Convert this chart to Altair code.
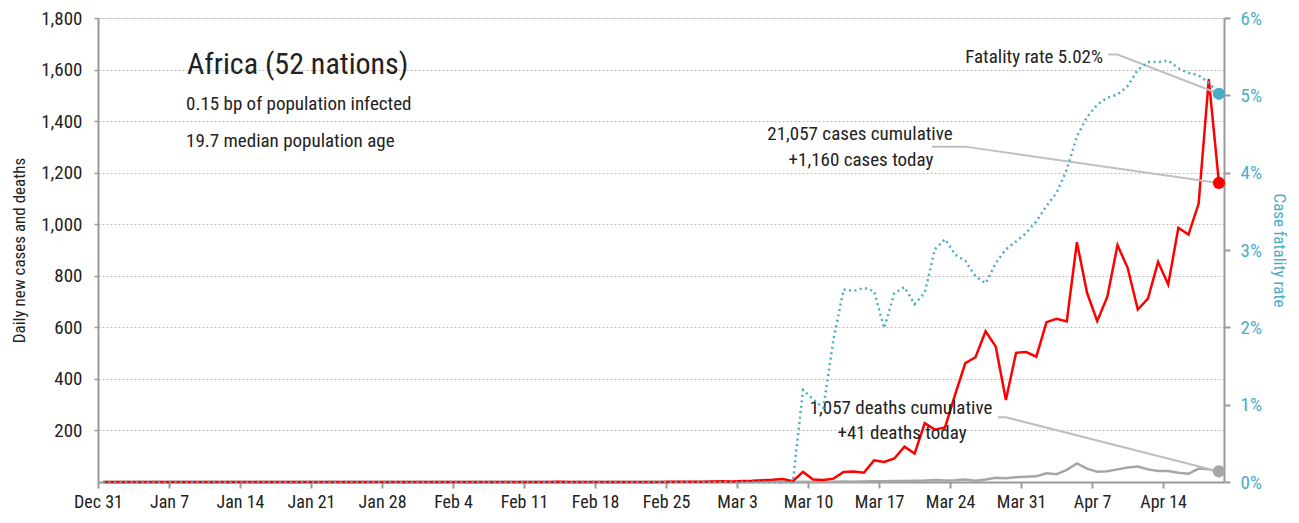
import altair as alt
import pandas as pd

START = "2019-12-31"

# Daily new cases, one value per day from Dec 31 (day 0) to Apr 19 (day 110)
CASES = [0] * 45 + [
    1, 0, 0, 0, 0, 0, 0, 0, 0, 0, 0,          # Feb 14 - Feb 24
    1, 1, 1, 1, 2,                            # Feb 25 - Feb 29
    3, 2, 4, 5, 7, 9, 12, 3, 39, 10,           # Mar 1 - Mar 10
    8, 13, 39, 41, 36, 84, 78, 91, 137, 110,   # Mar 11 - Mar 20
    228, 203, 212, 340, 461, 484, 585, 525, 318, 501,  # Mar 21 - Mar 30
    504, 486, 620, 633, 623, 930, 734, 624, 719, 919,  # Mar 31 - Apr 9
    831, 669, 711, 854, 766, 986, 960, 1080, 1563, 1160,  # Apr 10 - Apr 19
]

# Daily new deaths
DEATHS = [0] * 69 + [
    1, 0, 1, 1, 2, 1, 2, 3, 3, 4, 4, 5,        # Mar 9 - Mar 20
    6, 8, 6, 7, 10, 5, 10, 16, 15, 18,         # Mar 21 - Mar 30
    20, 22, 34, 30, 47, 72, 52, 40, 42, 49,    # Mar 31 - Apr 9
    56, 60, 49, 43, 43, 36, 32, 52, 49, 41,    # Apr 10 - Apr 19
]

# Case fatality rate, percent
CFR = [0] * 69 + [
    1.19, 1.07, 0.96, 1.84, 2.49, 2.47, 2.51, 2.47, 1.99, 2.44, 2.52, 2.30,
    2.45, 3.01, 3.14, 2.94, 2.86, 2.66, 2.57, 2.83, 3.01, 3.11,
    3.22, 3.37, 3.57, 3.74, 4.04, 4.47, 4.72, 4.88, 4.97, 5.01,
    5.12, 5.33, 5.43, 5.43, 5.45, 5.35, 5.29, 5.26, 5.16, 5.02,
]

TICK_DATES = ["2019-12-31", "2020-01-07", "2020-01-14", "2020-01-21", "2020-01-28",
              "2020-02-04", "2020-02-11", "2020-02-18", "2020-02-25", "2020-03-03",
              "2020-03-10", "2020-03-17", "2020-03-24", "2020-03-31", "2020-04-07",
              "2020-04-14"]
X_DOMAIN = ["2019-12-31", "2020-04-20"]
LEFT_TICKS = [200, 400, 600, 800, 1000, 1200, 1400, 1600, 1800]
RIGHT_TICKS = [0, 0.01, 0.02, 0.03, 0.04, 0.05, 0.06]

TITLE = "Africa (52 nations)"
SUBLINES = ["0.15 bp of population infected", "19.7 median population age"]
FAT_LABEL = "Fatality rate 5.02%"
CASE_LABELS = ["21,057 cases cumulative", "+1,160 cases today"]
DEATH_LABELS = ["1,057 deaths cumulative", "+41 deaths today"]

# leader lines: (id, day offset from START, value on the left axis)
LEADERS = [
    ("fat", 99.6, 1658), ("fat", 100.5, 1658), ("fat", 110.5, 1506),
    ("case", 82.2, 1301), ("case", 85.5, 1301), ("case", 110.5, 1160),
    ("death", 88.7, 251), ("death", 89.5, 251), ("death", 110.5, 41),
]

FONT = "'Roboto Condensed', 'DejaVu Sans Condensed', 'Liberation Sans Narrow', 'Arial Narrow', sans-serif"
RED = "#ff0000"
GREY = "#a6a6a6"
BLUE = "#4bacc6"

start = pd.Timestamp(START)
dates = pd.date_range(START, periods=len(CASES), freq="D") + pd.Timedelta(hours=12)
iso = list(dates.strftime("%Y-%m-%dT%H:%M:%SZ"))

df = pd.DataFrame({"date": iso, "cases": CASES, "deaths": DEATHS,
                   "cfr": [v / 100 for v in CFR]})
long = pd.concat([
    pd.DataFrame({"date": iso, "value": DEATHS, "series": "deaths"}),
    pd.DataFrame({"date": iso, "value": CASES, "series": "cases"}),
])
last_long = long[long["date"] == iso[-1]]
last_df = df[df["date"] == iso[-1]]

lead_df = pd.DataFrame({
    "id": [l[0] for l in LEADERS],
    "date": [(start + pd.Timedelta(days=l[1])).strftime("%Y-%m-%dT%H:%M:%SZ") for l in LEADERS],
    "value": [l[2] for l in LEADERS],
    "order": list(range(len(LEADERS))),
})

tick_vals = [int(pd.Timestamp(t, tz="UTC").timestamp() * 1000) for t in TICK_DATES]
xdom = [int(pd.Timestamp(t, tz="UTC").timestamp() * 1000) for t in X_DOMAIN]

xscale = alt.Scale(type="utc", domain=xdom, nice=False)
xaxis = alt.Axis(values=tick_vals, format="%b %-d", title=None, grid=False,
                 domainColor="#999999", domainWidth=2, tickColor="#999999",
                 tickWidth=2, tickSize=6, labelFontSize=18, labelColor="#222222",
                 labelPadding=5, labelOverlap=False, labelFlush=False)
X = alt.X("date:T", scale=xscale, axis=xaxis)
Xn = alt.X("date:T", scale=xscale)

yscale = alt.Scale(domain=[0, 1800], nice=False, zero=True)
yaxis = alt.Axis(values=LEFT_TICKS, format=",.0f", grid=True, gridColor="#bdbdbd",
                 gridDash=[2, 2], gridWidth=1, domainColor="#999999", domainWidth=2,
                 ticks=True, tickColor="#999999", tickWidth=1.5, tickSize=4,
                 labelFontSize=19, labelColor="#222222", labelPadding=12,
                 labelOverlap=False, labelFlush=False,
                 title="Daily new cases and deaths", titleFontSize=17,
                 titleFontWeight="normal", titleColor="#222222", titlePadding=12)
color = alt.Color("series:N", scale=alt.Scale(domain=["deaths", "cases"], range=[GREY, RED]),
                  legend=None)

leaders = alt.Chart(lead_df).mark_line(color="#bfbfbf", strokeWidth=2).encode(
    x=Xn, y=alt.Y("value:Q", scale=yscale), detail="id:N", order="order:Q")

lines = alt.Chart(long).mark_line(strokeWidth=2.5).encode(
    x=X, y=alt.Y("value:Q", scale=yscale, axis=yaxis), color=color)

dots = alt.Chart(last_long).mark_circle(size=150, opacity=1).encode(
    x=Xn, y=alt.Y("value:Q", scale=yscale), color=color)


def txt(s, x, y, size=19, align="left", weight="normal", color="#222222"):
    return alt.Chart(pd.DataFrame({"t": [s]})).mark_text(
        align=align, baseline="middle", fontSize=size, font=FONT, fontWeight=weight,
        color=color).encode(text="t:N", x=alt.value(x), y=alt.value(y))


texts = [
    txt(TITLE, 89, 47, size=30),
    txt(SUBLINES[0], 88, 86),
    txt(SUBLINES[1], 88, 123),
    txt(FAT_LABEL, 1005, 39, align="right"),
    txt(CASE_LABELS[0], 762, 116, align="center"),
    txt(CASE_LABELS[1], 763, 142, align="center"),
    txt(DEATH_LABELS[0], 803, 390, align="center"),
    txt(DEATH_LABELS[1], 804, 415, align="center"),
]

left = alt.layer(lines, leaders, dots, *texts)

rscale = alt.Scale(domain=[0, 0.06], nice=False, zero=True)
raxis = alt.Axis(orient="right", values=RIGHT_TICKS, format=".0%", grid=False,
                 domainColor="#999999", domainWidth=2, tickColor="#999999", tickWidth=2,
                 tickSize=6, labelFontSize=19, labelColor=BLUE, labelPadding=10,
                 labelOverlap=False, labelFlush=False,
                 title="Case fatality rate", titleFontSize=17, titleFontWeight="normal",
                 titleColor=BLUE, titlePadding=8)

blue = alt.Chart(df).mark_line(color=BLUE, strokeWidth=2.5, strokeDash=[2, 3.5]).encode(
    x=Xn, y=alt.Y("cfr:Q", scale=rscale, axis=raxis))
blue_dot = alt.Chart(last_df).mark_circle(size=150, opacity=1, color=BLUE).encode(
    x=Xn, y=alt.Y("cfr:Q", scale=rscale))
right = alt.layer(blue, blue_dot)

chart = alt.layer(left, right).resolve_scale(y="independent").properties(
    width=1126, height=464,
    padding={"left": 90, "top": 10, "right": 67, "bottom": 33},
    autosize=alt.AutoSizeParams(type="none"),
).configure_view(stroke=None).configure(font=FONT).configure_axis(
    labelFont=FONT, titleFont=FONT)

chart.save("out.html", embed_options={"renderer": "svg", "actions": False})
